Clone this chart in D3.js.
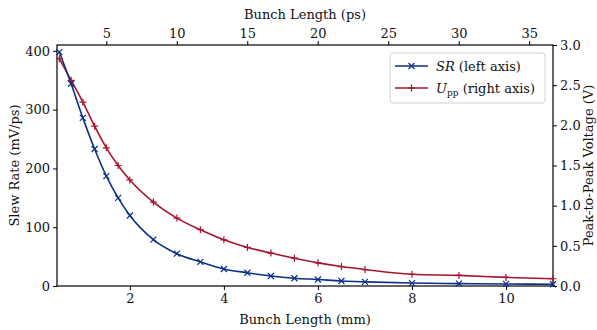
<!DOCTYPE html>
<html>
<head>
<meta charset="utf-8">
<script src="https://cdn.jsdelivr.net/npm/d3@7"></script>
<style>
body { margin: 0; background: #fff; }
svg text { font-family: "DejaVu Serif", "Liberation Serif", serif; fill: #111; }
</style>
</head>
<body>
<svg width="597" height="330"></svg>
<script>
// bunch length (mm)
const bunchLength = [0.5, 0.75, 1.0, 1.25, 1.5, 1.75, 2.0, 2.5, 3.0, 3.5, 4.0, 4.5, 5.0, 5.5, 6.0, 6.5, 7.0, 8.0, 9.0, 10.0, 11.0]
// slew rate (mV/ps), left axis
const slewRate = [398, 344, 286, 233, 187, 150, 120, 79, 55, 41, 29, 22.5, 17, 13.2, 11, 8.5, 7, 5, 4, 3.5, 3]
// peak-to-peak voltage (V), right axis
const upp = [2.83, 2.56, 2.29, 1.99, 1.72, 1.50, 1.32, 1.045, 0.845, 0.70, 0.575, 0.48, 0.41, 0.346, 0.288, 0.242, 0.205, 0.146, 0.132, 0.107, 0.09]

const xTicks = [2, 4, 6, 8, 10]
const psTicks = [5, 10, 15, 20, 25, 30, 35]
const leftTicks = [0, 100, 200, 300, 400]
const rightTicks = [0, 0.5, 1.0, 1.5, 2.0, 2.5, 3.0]

const mmPerPs = 0.299792
const blue = '#0b2f87'
const red = '#a5152f'

const m = {left: 57, right: 44, top: 45, bottom: 44}
const W = 597, H = 330
const svg = d3.select('svg')

const x = d3.scaleLinear().domain([0.45, 11]).range([m.left, W - m.right])
const xPs = d3.scaleLinear().domain([0.45 / mmPerPs, 11 / mmPerPs]).range([m.left, W - m.right])
const yL = d3.scaleLinear().domain([0, 410]).range([H - m.bottom, m.top])
const yR = d3.scaleLinear().domain([0, 3]).range([H - m.bottom, m.top])

const fs = '13px'
const font = '"DejaVu Serif", serif'

// axes
const gB = svg.append('g').attr('transform', `translate(0,${H - m.bottom})`)
    .call(d3.axisBottom(x).tickValues(xTicks).tickSize(4).tickPadding(4).tickFormat(d3.format('d')))
const gT = svg.append('g').attr('transform', `translate(0,${m.top})`)
    .call(d3.axisTop(xPs).tickValues(psTicks).tickSize(4).tickPadding(3).tickFormat(d3.format('d')))
const gL = svg.append('g').attr('transform', `translate(${m.left},0)`)
    .call(d3.axisLeft(yL).tickValues(leftTicks).tickSize(4).tickPadding(3))
const gR = svg.append('g').attr('transform', `translate(${W - m.right},0)`)
    .call(d3.axisRight(yR).tickValues(rightTicks).tickSize(4).tickPadding(3).tickFormat(d3.format('.1f')))

for (const g of [gB, gT, gL, gR]) {
    g.selectAll('.domain').remove()
    g.selectAll('line').attr('stroke', '#000').attr('stroke-width', 1)
    g.selectAll('text').style('font-size', fs).style('font-family', font).attr('fill', '#111')
}

// frame
svg.append('rect')
    .attr('x', m.left).attr('y', m.top)
    .attr('width', W - m.left - m.right).attr('height', H - m.top - m.bottom)
    .attr('fill', 'none').attr('stroke', '#000').attr('stroke-width', 1.2)

// axis labels
svg.append('text').attr('x', (m.left + W - m.right) / 2).attr('y', 324)
    .attr('text-anchor', 'middle').style('font-size', fs).text('Bunch Length (mm)')
svg.append('text').attr('x', (m.left + W - m.right) / 2).attr('y', 19)
    .attr('text-anchor', 'middle').style('font-size', fs).text('Bunch Length (ps)')
svg.append('text').attr('transform', `translate(19,${(m.top + H - m.bottom) / 2}) rotate(-90)`)
    .attr('text-anchor', 'middle').style('font-size', fs).text('Slew Rate (mV/ps)')
svg.append('text').attr('transform', `translate(593,${(m.top + H - m.bottom) / 2}) rotate(-90)`)
    .attr('text-anchor', 'middle').style('font-size', fs).text('Peak-to-Peak Voltage (V)')

const plot = svg.append('g')

const lineL = d3.line().x((d, i) => x(bunchLength[i])).y(d => yL(d)).curve(d3.curveMonotoneX)
const lineR = d3.line().x((d, i) => x(bunchLength[i])).y(d => yR(d)).curve(d3.curveMonotoneX)

plot.append('path').datum(upp).attr('d', lineR)
    .attr('fill', 'none').attr('stroke', red).attr('stroke-width', 1.6)
plot.append('path').datum(slewRate).attr('d', lineL)
    .attr('fill', 'none').attr('stroke', blue).attr('stroke-width', 1.6)

// markers
const s = 3.5
plot.selectAll('.plus').data(upp).join('path').attr('class', 'plus')
    .attr('d', (d, i) => {
        const cx = x(bunchLength[i]), cy = yR(d)
        return `M${cx - s},${cy}H${cx + s}M${cx},${cy - s}V${cy + s}`
    })
    .attr('stroke', red).attr('stroke-width', 1.2)
const c = 3
plot.selectAll('.cross').data(slewRate).join('path').attr('class', 'cross')
    .attr('d', (d, i) => {
        const cx = x(bunchLength[i]), cy = yL(d)
        return `M${cx - c},${cy - c}L${cx + c},${cy + c}M${cx - c},${cy + c}L${cx + c},${cy - c}`
    })
    .attr('stroke', blue).attr('stroke-width', 1.2)

// legend
const lg = svg.append('g').attr('transform', 'translate(390,53)')
lg.append('rect').attr('width', 155).attr('height', 50).attr('rx', 3)
    .attr('fill', 'rgba(255,255,255,0.8)').attr('stroke', '#d0d0d0')
const items = [
    {color: blue, mark: 'x', main: 'SR', sub: '', rest: ' (left axis)'},
    {color: red, mark: '+', main: 'U', sub: 'pp', rest: ' (right axis)'}
]
items.forEach((it, i) => {
    const yy = 13 + i * 22
    lg.append('line').attr('x1', 5).attr('x2', 38).attr('y1', yy).attr('y2', yy)
        .attr('stroke', it.color).attr('stroke-width', 1.6)
    const mx = 21.5
    lg.append('path').attr('d', it.mark === 'x'
        ? `M${mx - c},${yy - c}L${mx + c},${yy + c}M${mx - c},${yy + c}L${mx + c},${yy - c}`
        : `M${mx - s},${yy}H${mx + s}M${mx},${yy - s}V${yy + s}`)
        .attr('stroke', it.color).attr('stroke-width', 1.2)
    const t = lg.append('text').attr('x', 46).attr('y', yy + 5).style('font-size', fs)
    t.append('tspan').style('font-style', 'italic').text(it.main)
    if (it.sub) t.append('tspan').attr('dy', 3).style('font-size', '9px').text(it.sub)
    t.append('tspan').attr('dy', it.sub ? -3 : 0).text(it.rest)
})
</script>
</body>
</html>
